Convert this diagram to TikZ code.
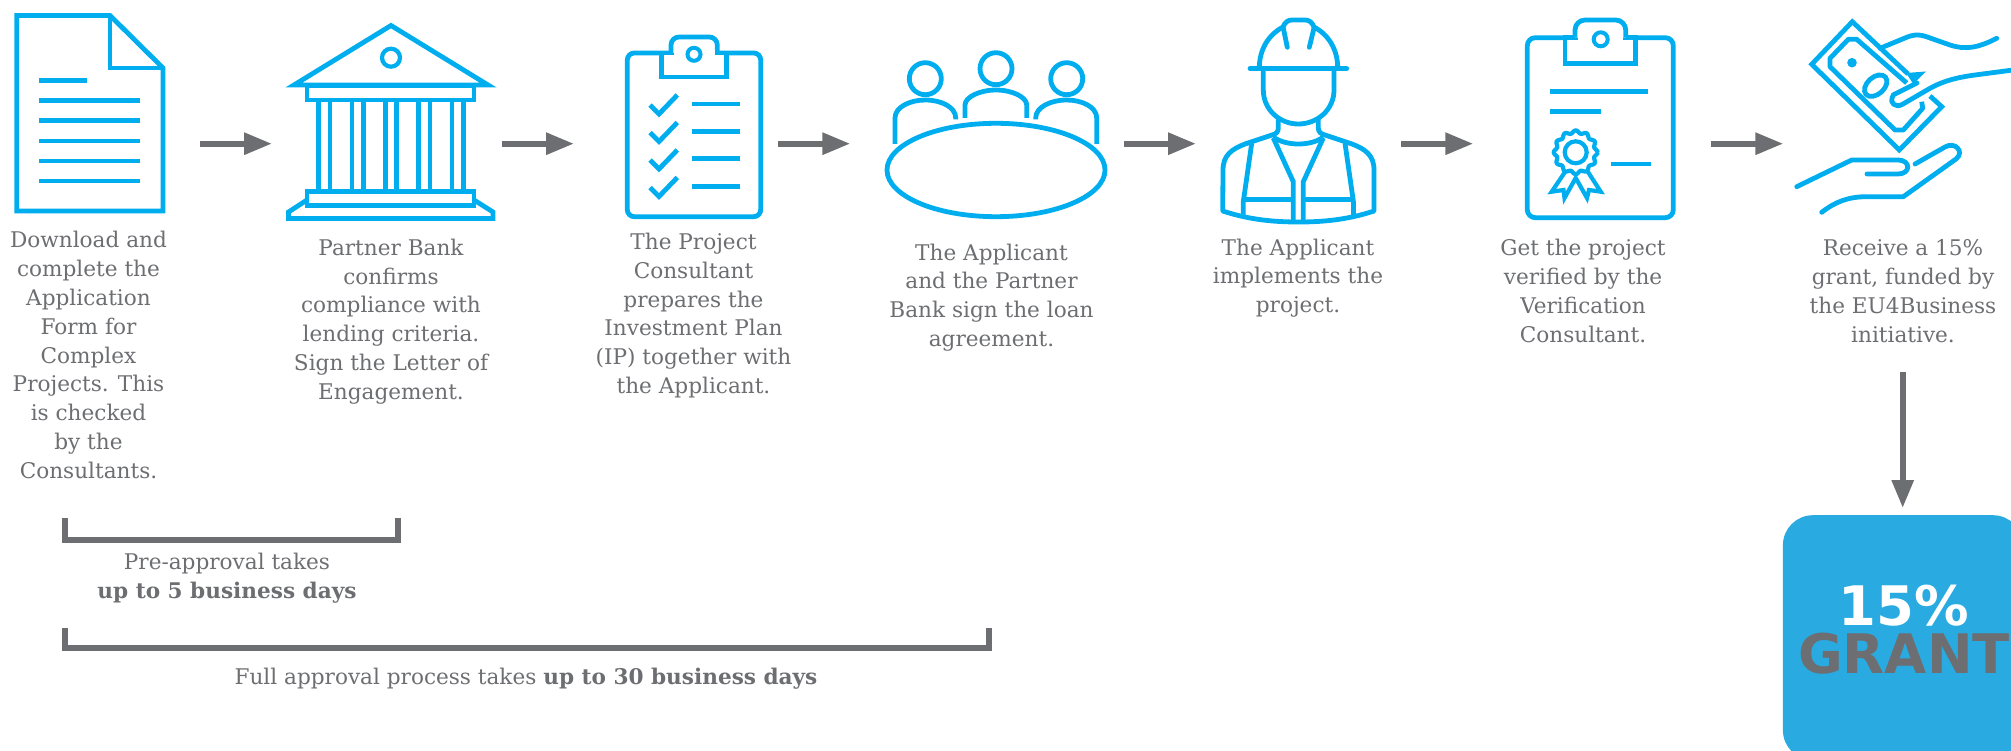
\documentclass[tikz,border=0pt]{standalone}
\usepackage{fontspec}
\setmainfont{DejaVu Serif}
\newfontfamily\dvsans{DejaVu Sans}
\usetikzlibrary{arrows.meta}
\definecolor{iconblue}{HTML}{00AEEF}
\definecolor{boxblue}{HTML}{29ABE2}
\definecolor{txtgray}{HTML}{6D6E71}
\tikzset{
  icon/.style={draw=iconblue,line width=4.8pt,line join=miter,fill=none},
  iconr/.style={icon,line cap=round,line join=round},
  flow/.style={draw=txtgray,line width=6pt,-{Triangle[length=28pt,width=21pt]}},
  brack/.style={draw=txtgray,line width=6pt,line join=miter},
  desc/.style={text=txtgray,align=center,inner sep=0pt,font=\fontsize{21.6}{28.8}\selectfont},
  granttxt/.style={align=center,inner sep=0pt,font=\dvsans\bfseries\fontsize{54.5}{48}\selectfont}
}
\begin{document}
\begin{tikzpicture}[x=1pt,y=-1pt]
\useasboundingbox (0,0) rectangle (2011,751);
% --- 1 document
\draw[icon] (16.7,15.5)--(110,15.5)--(163,68)--(163,211)--(16.7,211)--cycle;
\draw[icon] (110,15.5)--(110,68)--(163,68);
\draw[icon] (39,80.5)--(87,80.5);
\foreach \yy in {100.5,120.5,141,161,181} \draw[icon] (39,\yy)--(140,\yy);
% --- 2 bank
\draw[icon] (294,85)--(391,25.5)--(488,85)--cycle;
\draw[icon,line width=4.2pt] (391,57.7) circle (9);
\draw[icon] (307,86) rectangle (474,100);
\foreach \xa in {318.7,330,352,363.3,385.3,396.7,418.7,430,452,463.3} \draw[icon] (\xa,100)--(\xa,191.7);
\draw[icon] (307,191.7) rectangle (474,205.5);
\draw[icon] (307,200)--(288.5,212)--(288.5,218.5)--(493,218.5)--(493,212)--(474,200);
% --- 3 clipboard with checks
\draw[icon,rounded corners=7pt] (627.3,53) rectangle (760.7,216.7);
\draw[icon,fill=white] (661.7,53) rectangle (726.7,77);
\draw[icon,fill=white,rounded corners=8pt,line join=round] (671,53)--(671,37)--(717.3,37)--(717.3,53);
\draw[draw=white,line width=5pt] (673.5,53)--(714.8,53);
\draw[icon,line width=4pt] (694,54.3) circle (6.5);
\foreach \yy/\yl in {0/104,27.5/131.4,55/158.8,82.5/186.3}{
  \draw[icon] (650,105+\yy)--(659,114+\yy)--(677.3,95+\yy);
  \draw[icon] (691.7,\yl)--(740,\yl);
}
% --- 4 meeting
\draw[icon] (996,170) ellipse (109 and 46.7);
\draw[icon] (925.3,78.7) circle (16);
\draw[icon] (996,68.7) circle (16);
\draw[icon] (1066.7,78.7) circle (16);
\draw[icon] (895,144)--(895,118) .. controls (895,107) and (910,100) .. (925.3,100) .. controls (941,100) and (955.7,107) .. (955.7,118)--(955.7,119.5);
\draw[icon] (965,118)--(965,105) .. controls (965,97) and (980,90) .. (996,90) .. controls (1012,90) and (1026.7,97) .. (1026.7,105)--(1026.7,118);
\draw[icon] (1035.7,119.5)--(1035.7,118) .. controls (1035.7,107) and (1051,100) .. (1066.7,100) .. controls (1082,100) and (1096.7,107) .. (1096.7,118)--(1096.7,144);
% --- 5 worker
\draw[iconr] (1250,68.7)--(1346.7,68.7);
\draw[iconr] (1259.3,68) .. controls (1259.3,50) and (1268,35) .. (1283,27) .. controls (1285,22) and (1288,20) .. (1292,20)--(1305,20) .. controls (1309,20) and (1312,22) .. (1314,27) .. controls (1329,35) and (1337.7,50) .. (1337.7,68);
\draw[iconr] (1283.3,28)--(1287.3,47.3);
\draw[iconr] (1314,28)--(1309.3,47.3);
\draw[icon] (1263.3,70)--(1263.3,90) .. controls (1263.3,110) and (1280,124) .. (1298.3,124) .. controls (1317,124) and (1334,110) .. (1334,90)--(1334,70);
\draw[iconr] (1278.3,119)--(1278.3,128) .. controls (1278.3,132) and (1276,134) .. (1272,135)--(1245,144) .. controls (1232,149) and (1223,155) .. (1223,170)--(1222.7,211) .. controls (1250,220) and (1275,222) .. (1298.3,222) .. controls (1322,222) and (1347,220) .. (1374,211)--(1374,170) .. controls (1374,155) and (1365,149) .. (1352,144)--(1325,135) .. controls (1321,134) and (1318.3,132) .. (1318.3,128)--(1318.3,119);
\draw[icon] (1273.3,137) .. controls (1280,142) and (1290,144) .. (1298.3,144) .. controls (1307,144) and (1317,142) .. (1323.3,137);
\draw[icon] (1251.7,143.3)--(1243.3,201.7)--(1243.3,217);
\draw[icon] (1345,143.3)--(1353.4,201.7)--(1353.4,217);
\draw[icon] (1273.3,138)--(1293.3,181.7)--(1293.3,220);
\draw[icon] (1323.3,138)--(1303.3,181.7)--(1303.3,220);
\draw[icon] (1243.3,199.3)--(1293.3,199.3);
\draw[icon] (1303.3,199.3)--(1353.4,199.3);
% --- 6 clipboard with seal
\draw[icon,rounded corners=8pt] (1527.3,37.7) rectangle (1673.3,217.7);
\draw[icon,fill=white] (1565,37.7) rectangle (1635.7,63.3);
\draw[icon,fill=white,rounded corners=10pt,line join=round] (1575,37.7)--(1575,20)--(1625.7,20)--(1625.7,37.7);
\draw[draw=white,line width=5pt] (1577.5,37.7)--(1623.2,37.7);
\draw[icon,line width=4pt] (1600.7,39.3) circle (7);
\draw[icon] (1550,91.3)--(1648.3,91.3);
\draw[icon] (1550,111.3)--(1600.7,111.3);
\draw[icon] (1610.7,164)--(1650.7,164);
\draw[icon,line width=4.2pt,smooth] plot[domain=0:360,samples=145] ({1575.7+(20.5+1.4*cos(12*\x))*cos(\x)},{152.3+(20.5+1.4*cos(12*\x))*sin(\x)});
\draw[icon,line width=4.2pt] (1575.7,152.3) circle (11);
\draw[icon,line width=4.2pt] (1565,172)--(1551.7,191.7)--(1563.5,190)--(1564.5,198)--(1575.7,178)--(1587,198)--(1589,190)--(1600.7,191.7)--(1588,172);
% --- 7 money and hands
\draw[icon] (1908,74)--(1852.3,21.7)--(1811.7,64.3)--(1899.3,150)--(1941.7,106.7)--(1930,96);
\draw[icon,line join=round] (1906.7,83)--(1856.7,39.3)--(1848.3,39.3)--(1830,58.3)--(1830,66.7)--(1895,130)--(1903.3,130)--(1922.7,108.3)--(1921.7,101.7);
\fill[iconblue] (1852,62.7) circle (4.8);
\draw[icon,rotate around={42:(1875.7,85.7)}] (1875.7,85.7) ellipse (13 and 8.5);
\draw[iconr] (1880,48.3)--(1905,38) .. controls (1914,34) and (1920,34) .. (1930,38)--(1950,45) .. controls (1965,50) and (1978,48) .. (1996.7,38.3);
\fill[iconblue] (1906,73)--(1926,71.5)--(1913.3,84)--cycle;
\draw[iconr] (2013,70)--(1975,75) .. controls (1960,77) and (1945,80) .. (1930,88.3)--(1903,104) .. controls (1895,109) and (1890,102) .. (1892,98) .. controls (1892,95) and (1894,94) .. (1897,93)--(1917,83);
\draw[iconr] (1796.7,186.7)--(1851.7,160)--(1898,160) .. controls (1911,160) and (1911,174) .. (1898,174)--(1867,174);
\draw[iconr] (1915,164)--(1945,147) .. controls (1955,141) and (1965,152) .. (1956,159)--(1903.3,196.7)--(1866.7,196.7) .. controls (1848,196.7) and (1835,202) .. (1821.7,212.3);
% --- arrows
\coordinate (a1s) at (200,143.7); \coordinate (a1e) at (272,143.7);
\coordinate (a2s) at (501.5,143.7); \coordinate (a2e) at (574,143.7);
\coordinate (a3s) at (778,143.7); \coordinate (a3e) at (850.3,143.7);
\coordinate (a4s) at (1124,143.7); \coordinate (a4e) at (1196,143.7);
\coordinate (a5s) at (1401,143.7); \coordinate (a5e) at (1473.3,143.7);
\coordinate (a6s) at (1711,143.7); \coordinate (a6e) at (1783.3,143.7);
\coordinate (a7s) at (1902.7,371.7); \coordinate (a7e) at (1902.7,508);
\foreach \i in {1,...,7} \draw[flow] (a\i s)--(a\i e);
% --- texts
\node[desc,anchor=center] (t1) at (88.5,355) {Download and\\complete the\\Application\\Form for\\Complex\\Projects. This\\is checked\\by the\\Consultants.};
\node[desc,anchor=center] (t2) at (391,321.5) {Partner Bank\\confirms\\compliance with\\lending criteria.\\Sign the Letter of\\Engagement.};
\node[desc,anchor=center] (t3) at (693.5,315.5) {The Project\\Consultant\\prepares the\\Investment Plan\\(IP) together with\\the Applicant.};
\node[desc,anchor=center] (t4) at (991.5,297.5) {The Applicant\\and the Partner\\Bank sign the loan\\agreement.};
\node[desc,anchor=center] (t5) at (1298,278) {The Applicant\\implements the\\project.};
\node[desc,anchor=center] (t6) at (1583,291) {Get the project\\verified by the\\Verification\\Consultant.};
\node[desc,anchor=center] (t7) at (1903,291) {Receive a 15\%\\grant, funded by\\the EU4Business\\initiative.};
\node[desc,anchor=center] (t8) at (227,578.3) {Pre-approval takes\\\textbf{up to 5 business days}};
\node[desc,anchor=center] (t9) at (526,679) {Full approval process takes \textbf{up to 30 business days}};
% --- brackets
\coordinate (b1a) at (64.5,518); \coordinate (b1b) at (64.5,539.7); \coordinate (b1c) at (397.5,539.7); \coordinate (b1d) at (397.5,518);
\coordinate (b2a) at (64.5,627.7); \coordinate (b2b) at (64.5,647.7); \coordinate (b2c) at (989,647.7); \coordinate (b2d) at (989,627.7);
\draw[brack] (b1a)--(b1b)--(b1c)--(b1d);
\draw[brack] (b2a)--(b2b)--(b2c)--(b2d);
% --- grant
\begin{scope}
\clip (0,0) rectangle (2011,751);
\node[fill=boxblue,rounded corners=30pt,minimum width=240pt,minimum height=245pt,inner sep=0pt,anchor=north west] (grantbox) at (1782.7,515) {};
\end{scope}
\node[granttxt,anchor=center] (granttext) at (1904,629.5) {\textcolor{white}{15\%}\\\textcolor{txtgray}{GRANT}};
\end{tikzpicture}
\end{document}
